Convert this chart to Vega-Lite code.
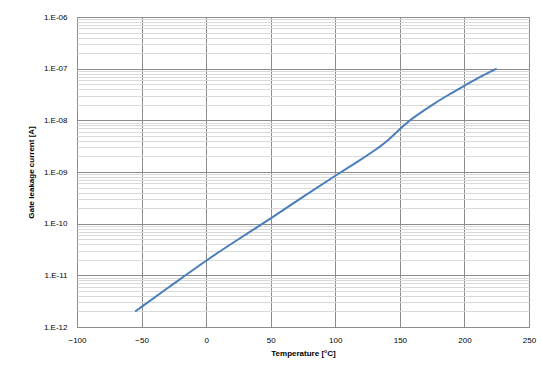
{
  "$schema": "https://vega.github.io/schema/vega-lite/v6.json",
  "autosize": "none",
  "padding": {"left": 77, "top": 17, "right": 14, "bottom": 40},
  "width": 452,
  "height": 310,
  "background": "white",
  "config": {
    "view": {"stroke": "#868686", "strokeWidth": 1},
    "font": "Liberation Sans"
  },
  "data": {
    "values": [
      {"temp": -55, "current": 2.0e-12},
      {"temp": -25, "current": 6.9e-12},
      {"temp": 0, "current": 1.95e-11},
      {"temp": 25, "current": 5.0e-11},
      {"temp": 50, "current": 1.26e-10},
      {"temp": 75, "current": 3.3e-10},
      {"temp": 100, "current": 8.5e-10},
      {"temp": 118, "current": 1.62e-9},
      {"temp": 130, "current": 2.57e-9},
      {"temp": 140, "current": 3.89e-9},
      {"temp": 149, "current": 6.46e-9},
      {"temp": 157, "current": 9.77e-9},
      {"temp": 165, "current": 1.35e-8},
      {"temp": 175, "current": 2.0e-8},
      {"temp": 188, "current": 3.16e-8},
      {"temp": 200, "current": 4.68e-8},
      {"temp": 211, "current": 6.76e-8},
      {"temp": 225, "current": 1.0e-7}
    ]
  },
  "mark": {"type": "line", "color": "#4a7ebb", "strokeWidth": 2, "interpolate": "basis"},
  "encoding": {
    "x": {
      "field": "temp",
      "type": "quantitative",
      "scale": {"domain": [-100, 250], "nice": false, "zero": false},
      "axis": {
        "values": [-100, -50, 0, 50, 100, 150, 200, 250],
        "title": "Temperature [°C]",
        "titleFont": "Liberation Sans",
        "titleFontSize": 8,
        "titleFontWeight": "bold",
        "titleColor": "#000",
        "titlePadding": 5,
        "labelFont": "Liberation Sans",
        "labelFontSize": 8,
        "labelColor": "#000",
        "labelPadding": 9,
        "ticks": false,
        "domain": false,
        "gridColor": "#8c8c8c",
        "gridOpacity": 1,
        "labelFlush": false
      }
    },
    "y": {
      "field": "current",
      "type": "quantitative",
      "scale": {"type": "log", "domain": [1e-12, 1e-6], "nice": false},
      "axis": {
        "values": [1e-12, 2e-12, 3e-12, 4e-12, 5e-12, 6e-12, 7e-12, 8e-12, 9e-12,
                   1e-11, 2e-11, 3e-11, 4e-11, 5e-11, 6e-11, 7e-11, 8e-11, 9e-11,
                   1e-10, 2e-10, 3e-10, 4e-10, 5e-10, 6e-10, 7e-10, 8e-10, 9e-10,
                   1e-9, 2e-9, 3e-9, 4e-9, 5e-9, 6e-9, 7e-9, 8e-9, 9e-9,
                   1e-8, 2e-8, 3e-8, 4e-8, 5e-8, 6e-8, 7e-8, 8e-8, 9e-8,
                   1e-7, 2e-7, 3e-7, 4e-7, 5e-7, 6e-7, 7e-7, 8e-7, 9e-7, 1e-6],
        "labelExpr": "abs(log(datum.value)/LN10 - round(log(datum.value)/LN10)) < 0.001 ? '1.E-' + (-round(log(datum.value)/LN10) < 10 ? '0' : '') + (-round(log(datum.value)/LN10)) : ''",
        "title": "Gate leakage current [A]",
        "titleFont": "Liberation Sans",
        "titleFontSize": 8,
        "titleFontWeight": "bold",
        "titleColor": "#000",
        "titlePadding": 8,
        "labelFont": "Liberation Sans",
        "labelFontSize": 8,
        "labelColor": "#000",
        "labelPadding": 10,
        "labelOverlap": false,
        "labelFlush": false,
        "ticks": false,
        "domain": false,
        "gridOpacity": 1,
        "gridColor": {
          "condition": {"test": "abs(log(datum.value)/LN10 - round(log(datum.value)/LN10)) < 0.001", "value": "#8c8c8c"},
          "value": "#d9d9d9"
        }
      }
    }
  }
}
